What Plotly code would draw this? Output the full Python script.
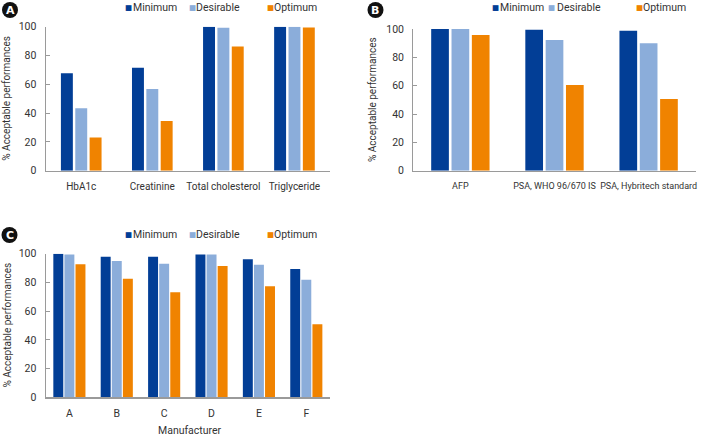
import plotly.graph_objects as go

W, H = 708, 437

series_names = ["Minimum", "Desirable", "Optimum"]
colors = ["#023e96", "#8badda", "#f08300"]

cats_a = ["HbA1c", "Creatinine", "Total cholesterol", "Triglyceride"]
a_minimum = [67.6, 71.5, 100, 100]
a_desirable = [43.3, 56.7, 99.3, 100]
a_optimum = [23.0, 34.5, 86.3, 99.5]

cats_b = ["AFP", "PSA, WHO 96/670 IS", "PSA, Hybritech standard"]
b_minimum = [100, 99.4, 98.8]
b_desirable = [100, 92.2, 90.0]
b_optimum = [95.7, 60.4, 50.6]

cats_c = ["A", "B", "C", "D", "E", "F"]
c_minimum = [100, 97.9, 97.9, 99.5, 96.1, 89.3]
c_desirable = [99.5, 94.9, 93.0, 99.5, 92.3, 81.9]
c_optimum = [92.6, 82.6, 73.1, 91.4, 77.3, 50.8]

y_ticks = [0, 20, 40, 60, 80, 100]
y_title = "% Acceptable performances"
x_title_c = "Manufacturer"

FONT = "Roboto, Lato, sans-serif"
TXT = "#333333"

def px(x):
    return x / W

def py(y):
    return 1 - y / H

fig = go.Figure()

panels = [
    ("x", "y", cats_a, [a_minimum, a_desirable, a_optimum], 0.168, 0.202),
    ("x2", "y2", cats_b, [b_minimum, b_desirable, b_optimum], 0.188, 0.216),
    ("x3", "y3", cats_c, [c_minimum, c_desirable, c_optimum], 0.21, 0.234),
]

for xa, ya, cats, vals, bw, slot in panels:
    for i, (name, col, v) in enumerate(zip(series_names, colors, vals)):
        fig.add_trace(go.Bar(
            x=cats, y=v, name=name, marker=dict(color=col, line=dict(width=0)),
            width=bw, offset=(i - 1) * slot - bw / 2,
            xaxis=xa, yaxis=ya, showlegend=False,
        ))

# domains in pixels, x tick font size
doms = {
    "": ((45.7, 330), (26.7, 170.7), 10),
    "2": ((413.3, 695.7), (29, 170.7), 9),
    "3": ((45.7, 330), (253.7, 397.3), 10.5),
}

layout = dict(
    width=W, height=H, margin=dict(l=0, r=0, t=0, b=0),
    paper_bgcolor="white", plot_bgcolor="white",
    barmode="overlay",
    font=dict(family=FONT, size=10, color=TXT),
    showlegend=False,
)

for k, ((x0, x1), (y0, y1), fs) in doms.items():
    layout["xaxis" + k] = dict(
        domain=[px(x0), px(x1)], anchor="y" + k, showline=True, linecolor="#9a9a9a",
        linewidth=1.2, ticks="", showgrid=False, tickfont=dict(size=fs, color=TXT),
        tickangle=0, ticklabelstandoff=6, fixedrange=True, automargin=False,
    )
    layout["yaxis" + k] = dict(
        domain=[py(y1), py(y0)], anchor="x" + k, range=[0, 100], showline=True,
        linecolor="#9a9a9a", linewidth=1.2, ticks="inside", ticklen=4, tickcolor="#9a9a9a",
        tickvals=y_ticks, showgrid=False, zeroline=False, tickfont=dict(size=10.5, color=TXT),
        ticklabelstandoff=6, fixedrange=True, automargin=False,
    )

fig.update_layout(**layout)

annotations = []
shapes = []

# panel badges
for letter, cx, cy in [("A", 10, 10), ("B", 375.5, 10), ("C", 9.5, 235)]:
    r = 8
    shapes.append(dict(type="circle", xref="paper", yref="paper",
                       x0=px(cx - r), x1=px(cx + r), y0=py(cy + r), y1=py(cy - r),
                       fillcolor="#111111", line=dict(width=0)))
    annotations.append(dict(text="<b>%s</b>" % letter, x=px(cx), y=py(cy), xref="paper", yref="paper",
                            showarrow=False, xanchor="center", yanchor="middle",
                            font=dict(family="DejaVu Sans, sans-serif", size=11, color="white")))

# legends (square x, text x) per item, y center
legends = [
    (7.5, [(123, 131), (187, 194), (265, 272)]),
    (7.5, [(490, 498), (546, 555), (634, 641)]),
    (234.7, [(123, 131), (187, 194), (265, 272)]),
]
for ly, items in legends:
    for (sx, tx), name, col in zip(items, series_names, colors):
        annotations.append(dict(text="■", x=px(sx), y=py(ly), xref="paper", yref="paper",
                                showarrow=False, xanchor="left", yanchor="middle",
                                font=dict(family="DejaVu Sans, sans-serif", size=7.5, color=col)))
        annotations.append(dict(text=name, x=px(tx), y=py(ly), xref="paper", yref="paper",
                                showarrow=False, xanchor="left", yanchor="middle",
                                font=dict(size=10.5, color=TXT)))

# y titles
for tx, ty in [(7, 98.7), (372, 100), (7, 325.5)]:
    annotations.append(dict(text=y_title, x=px(tx), y=py(ty), xref="paper", yref="paper",
                            showarrow=False, textangle=-90, xanchor="center", yanchor="middle",
                            font=dict(size=10, color=TXT)))

annotations.append(dict(text=x_title_c, x=px(190), y=py(430.5), xref="paper", yref="paper",
                        showarrow=False, xanchor="center", yanchor="middle",
                        font=dict(size=10.5, color=TXT)))

fig.update_layout(annotations=annotations, shapes=shapes)

fig.write_html(
    "out.html",
    config={"displayModeBar": False, "staticPlot": True},
    post_script="document.body.style.margin='0';document.body.style.padding='0';document.body.style.overflow='hidden';",
)
